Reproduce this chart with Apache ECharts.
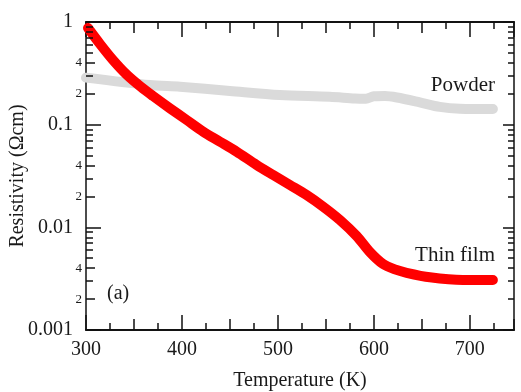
<!DOCTYPE html>
<html>
<head>
<meta charset="utf-8">
<script src="https://cdn.jsdelivr.net/npm/echarts@6/dist/echarts.min.js"></script>
<style>html,body{margin:0;padding:0;background:#fff}#c{width:521px;height:392px}</style>
</head>
<body>
<div id="c"></div>
<script>
// Thin film (red)
var filmT   = [302.1, 314.6, 328.1, 342.7, 357.3, 369.8, 387.5, 404.9, 422.2, 439.6, 457.0, 477.8, 495.1, 512.5, 529.9, 547.2, 564.6, 582.0, 595.8, 609.4, 621.9, 634.1, 658.3, 692.7, 724.0];
var filmRho = [0.874, 0.611, 0.4265, 0.305, 0.233, 0.190, 0.1443, 0.1110, 0.0854, 0.0683, 0.0545, 0.0405, 0.0323, 0.02585, 0.02065, 0.01589, 0.01179, 0.00823, 0.00575, 0.00440, 0.00389, 0.00361, 0.00326, 0.00307, 0.00307];
// Powder (gray)
var powderT   = [300, 366.7, 397.9, 450, 502, 554, 580.2, 591.7, 600, 611.5, 624, 647.9, 668.7, 689.6, 724];
var powderRho = [0.287, 0.243, 0.234, 0.213, 0.1945, 0.187, 0.180, 0.179, 0.189, 0.190, 0.184, 0.165, 0.149, 0.143, 0.142];
// y minor tick values and labelled minor ticks
var minorTickValues = [0.002, 0.003, 0.004, 0.005, 0.006, 0.007, 0.008, 0.009,
                       0.02, 0.03, 0.04, 0.05, 0.06, 0.07, 0.08, 0.09,
                       0.2, 0.3, 0.4, 0.5, 0.6, 0.7, 0.8, 0.9];
var minorLabelValues = [0.002, 0.004, 0.02, 0.04, 0.2, 0.4];
var minorLabelTexts  = ['2', '4', '2', '4', '2', '4'];

function zip(a, b) { return a.map(function (v, i) { return [v, b[i]]; }); }

var FONT = 'Liberation Serif';
var TXT = '#1a1a1a';
var AX = '#111';
var XMIN = 300, XMAX = 746;
var PX_PER_K = 0.96; // used only to size tick marks in axis units
var chart = echarts.init(document.getElementById('c'), null, {renderer: 'canvas'});

function xAx(pos, interval, len, labels) {
  return {
    type: 'value', position: pos, min: XMIN, max: XMAX, interval: interval,
    axisLine: {show: true, onZero: false, lineStyle: {color: AX, width: 1.5}},
    axisTick: {show: true, inside: true, length: len, lineStyle: {color: AX, width: 1.5}},
    axisLabel: {show: labels, margin: 10, fontFamily: FONT, fontSize: 20, color: TXT, showMaxLabel: false},
    splitLine: {show: false},
    name: labels ? 'Temperature (K)' : '', nameLocation: 'middle', nameGap: 41,
    nameTextStyle: {fontFamily: FONT, fontSize: 20, color: TXT}
  };
}
function yAx(pos, majorLen, labels) {
  return {
    type: 'log', logBase: 10, position: pos, min: 0.001, max: 1,
    axisLine: {show: true, onZero: false, lineStyle: {color: AX, width: 1.5}},
    axisTick: {show: true, inside: true, length: majorLen, lineStyle: {color: AX, width: 1.5}},
    axisLabel: {show: labels, margin: 13, fontFamily: FONT, fontSize: 20, color: TXT,
      formatter: function (v) { return String(v); }},
    splitLine: {show: false},
    name: labels ? 'Resistivity (\u03A9cm)' : '', nameLocation: 'middle', nameGap: 58,
    nameMoveOverlap: false,
    nameTextStyle: {fontFamily: FONT, fontSize: 20, color: TXT}
  };
}

// minor y ticks as markLine segments (left and right frame)
var tickSegs = [];
minorTickValues.forEach(function (v) {
  var lenL = (minorLabelValues.indexOf(v) >= 0 ? 9 : 7) / PX_PER_K;
  var lenR = 6 / PX_PER_K;
  tickSegs.push([{coord: [XMIN, v]}, {coord: [XMIN + lenL, v]}]);
  tickSegs.push([{coord: [XMAX - lenR, v]}, {coord: [XMAX, v]}]);
});

chart.setOption({
  animation: false,
  backgroundColor: '#fff',
  grid: {left: 86, right: 7, top: 22, bottom: 62, containLabel: false, outerBoundsMode: 'none'},
  xAxis: [
    xAx('bottom', 100, 15, true), xAx('bottom', 50, 11, false), xAx('bottom', 25, 7, false),
    xAx('top', 100, 15, false), xAx('top', 50, 11, false), xAx('top', 25, 7, false)
  ],
  yAxis: [yAx('left', 15, true), yAx('right', 11, false)],
  series: [
    {type: 'line', name: 'Powder', data: zip(powderT, powderRho), smooth: 0.3, symbol: 'none',
      lineStyle: {color: '#dadada', width: 10, cap: 'round', join: 'round'}, z: 2,
      markLine: {silent: true, symbol: ['none', 'none'], animation: false,
        label: {show: false}, emphasis: {disabled: true},
        lineStyle: {color: AX, width: 1.5, type: 'solid'}, data: tickSegs}},
    {type: 'line', name: 'Thin film', data: zip(filmT, filmRho), smooth: 0.3, symbol: 'none',
      lineStyle: {color: '#ff0000', width: 10, cap: 'round', join: 'round'}, z: 3},
    {type: 'custom', name: 'yMinorLabels', coordinateSystem: 'cartesian2d', clip: false, silent: true,
      data: minorLabelValues.map(function (v) { return [XMIN, v]; }),
      renderItem: function (params, api) {
        var p = api.coord([api.value(0), api.value(1)]);
        return {type: 'text', x: p[0] - 4, y: p[1],
          style: {text: minorLabelTexts[params.dataIndex], align: 'right', verticalAlign: 'middle',
            font: '13px "Liberation Serif"', fill: TXT}};
      }, z: 10}
  ],
  graphic: [
    {type: 'text', right: 26, top: 75, style: {text: 'Powder', font: '21px "Liberation Serif"', fill: TXT}},
    {type: 'text', right: 26, top: 245, style: {text: 'Thin film', font: '21px "Liberation Serif"', fill: TXT}},
    {type: 'text', left: 107, top: 284, style: {text: '(a)', font: '20px "Liberation Serif"', fill: TXT}}
  ]
});
</script>
</body>
</html>
